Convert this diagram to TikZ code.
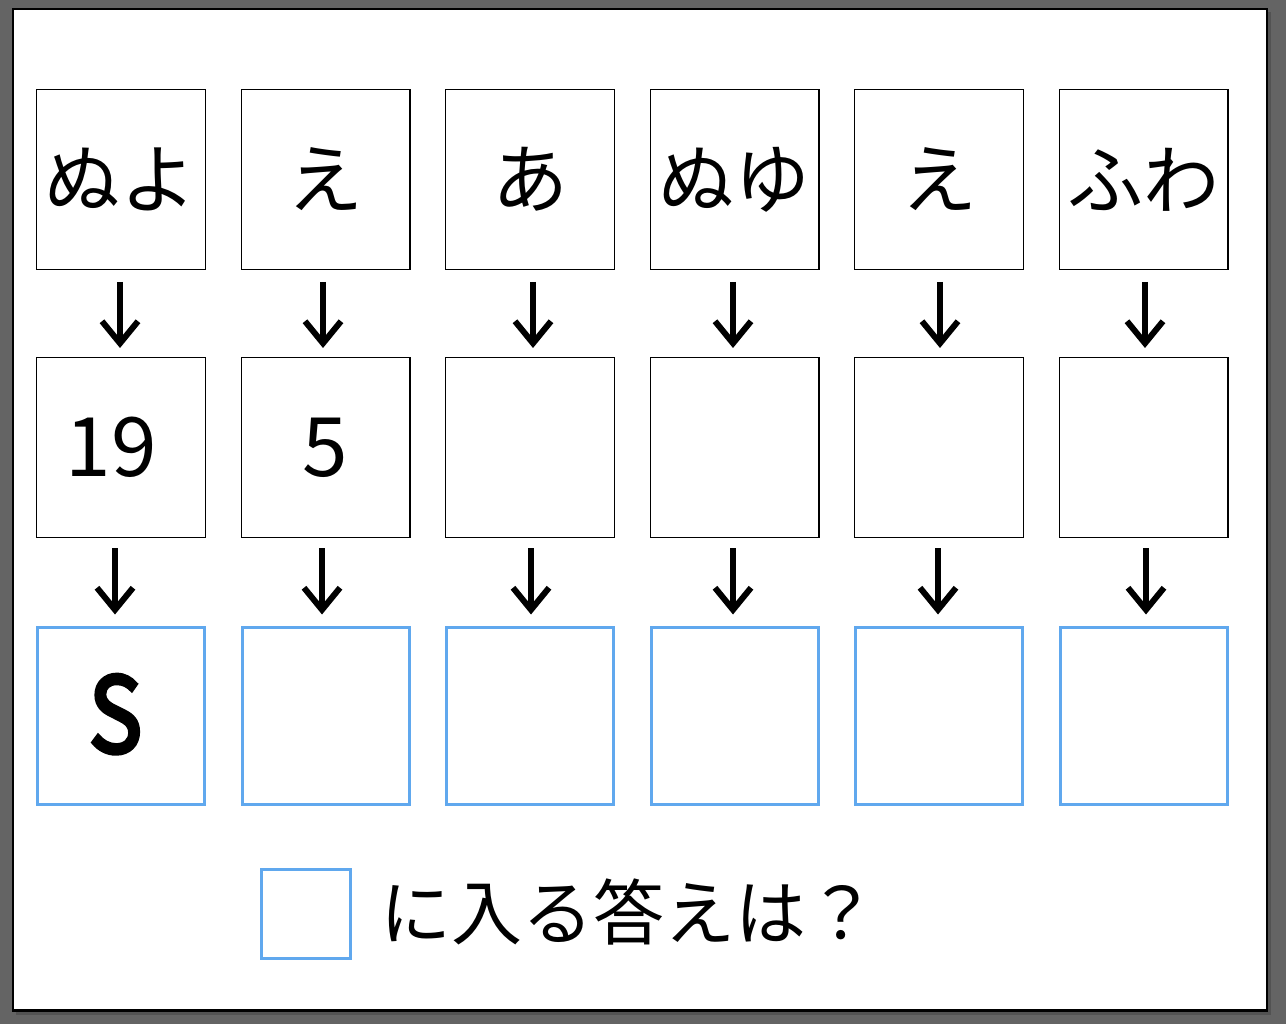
\documentclass[tikz,border=0pt]{standalone}
\usepackage{fontspec}
\setmainfont{Noto Sans CJK JP}
\usetikzlibrary{arrows.meta}
\definecolor{bgray}{RGB}{100,100,100}
\definecolor{sgray}{RGB}{82,82,82}
\definecolor{qblue}{RGB}{96,168,238}
\tikzset{
  kbox/.style={draw=black, line width=1.4pt, fill=white, minimum width=168.6pt, minimum height=179.6pt, inner sep=0pt, font=\fontsize{76}{80}\selectfont},
  nbox/.style={kbox, font=\fontsize{82}{86}\selectfont},
  abox/.style={draw=qblue, line width=3pt, fill=white, minimum width=167pt, minimum height=177pt, inner sep=0pt},
  arr/.style={line width=5.5pt, -{Straight Barb[length=22pt,width=36pt,line width=6pt]}},
  qtext/.style={font=\fontsize{71}{75}\selectfont, inner sep=0pt, anchor=west}
}
\begin{document}
\begin{tikzpicture}[x=1pt,y=-1pt]
\useasboundingbox (0,0) rectangle (1286,1024);
\fill[bgray] (0,0) rectangle (1286,1024);
\fill[sgray] (16,12) rectangle (1271,1015);
\draw[line width=2.5pt, fill=white] (13.2,9.2) rectangle (1267,1010.5);
% row 1
\node[kbox] (a1) at (121,179.5) {ぬよ};
\node[kbox] (a2) at (325.5,179.5) {え};
\node[kbox] (a3) at (530,179.5) {あ};
\node[kbox] (a4) at (734.5,179.5) {ぬゆ};
\node[kbox] (a5) at (939,179.5) {え};
\node[kbox] (a6) at (1143.5,179.5) {ふわ};
% row 2
\node[nbox] (b1) at (121,447.5) {19\kern20pt};
\node[nbox] (b2) at (325.5,447.5) {5};
\node[nbox] (b3) at (530,447.5) {};
\node[nbox] (b4) at (734.5,447.5) {};
\node[nbox] (b5) at (939,447.5) {};
\node[nbox] (b6) at (1143.5,447.5) {};
% row 3
\node[abox] (c1) at (121,715.5) {\raisebox{4pt}{\scalebox{0.86}[1]{\fontsize{104}{108}\selectfont\addfontfeature{FakeBold=4}S}}\kern11pt};
\node[abox] (c2) at (325.5,715.5) {};
\node[abox] (c3) at (530,715.5) {};
\node[abox] (c4) at (734.5,715.5) {};
\node[abox] (c5) at (939,715.5) {};
\node[abox] (c6) at (1143.5,715.5) {};
% arrows row1 -> row2
\foreach \i/\d in {1/-1,2/-2.5,3/3,4/-1.5,5/1,6/1.5}{
  \draw[arr, shorten <=12pt, shorten >=9pt] ([xshift=\d pt]a\i.south) -- ([xshift=\d pt]b\i.north);
}
% arrows row2 -> row3
\foreach \i/\d in {1/-6,2/-3.5,3/1,4/-1.5,5/-1,6/2.5}{
  \draw[arr, shorten <=10pt, shorten >=11pt] ([xshift=\d pt]b\i.south) -- ([xshift=\d pt]c\i.north);
}
% question
\node[draw=qblue, line width=3pt, minimum width=89pt, minimum height=89pt, inner sep=0pt] (q) at (306,914) {};
\node[qtext] (qt) at (380,912) {に入る答えは？};
\end{tikzpicture}
\end{document}
